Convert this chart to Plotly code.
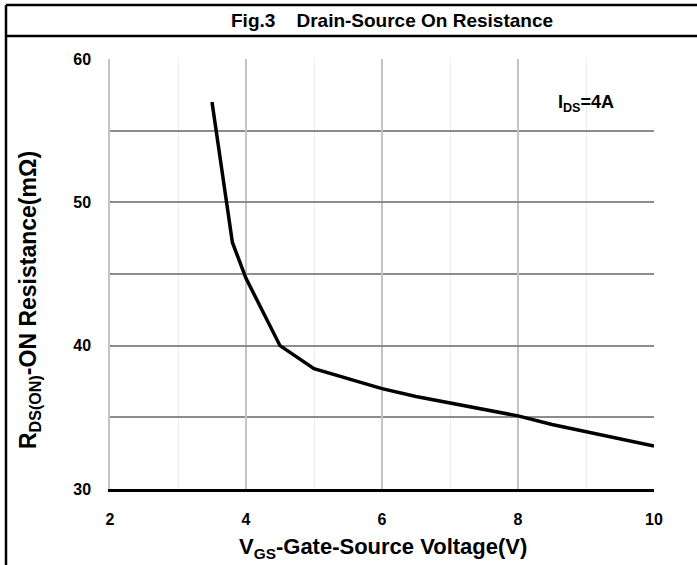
import plotly.graph_objects as go

# V_GS (V) and R_DS(ON) (mOhm)
vgs = [3.5, 3.8, 4.0, 4.5, 5.0, 5.5, 6.0, 6.5, 7.0, 7.5, 8.0, 8.5, 9.0, 9.5, 10.0]
rds_on = [57.0, 47.2, 44.7, 40.0, 38.4, 37.7, 37.0, 36.45, 36.0, 35.6, 35.1, 34.5, 34.0, 33.5, 33.0]

x_ticks = [2, 4, 6, 8, 10]
y_ticks = [30, 40, 50, 60]

FONT = "Liberation Sans Narrow, Arial Narrow, Liberation Sans, Arial, sans-serif"

W, H = 697, 565
L, R, T, B = 110, 43, 59, 76
PW, PH = W - L - R, H - T - B


def px(x):
    return (x - L) / PW


def py(y):
    return (H - B - y) / PH


fig = go.Figure()
fig.add_trace(go.Scatter(
    x=vgs, y=rds_on, mode="lines",
    line=dict(color="black", width=3.5),
    showlegend=False, hoverinfo="skip",
))

fig.update_layout(
    width=W, height=H,
    margin=dict(l=L, r=R, t=T, b=B),
    paper_bgcolor="white", plot_bgcolor="white",
    font=dict(family=FONT, color="black", size=16),
    showlegend=False,
)

fig.update_xaxes(
    range=[2, 10], tickvals=x_ticks, ticktext=[str(v) for v in x_ticks],
    showgrid=True, gridcolor="#c4c4c4", gridwidth=1.5,
    minor=dict(dtick=1, tick0=2, showgrid=True, gridcolor="#ececec", gridwidth=1),
    showline=True, linecolor="black", linewidth=2.5,
    zeroline=False, ticks="", ticklabelstandoff=14,
    tickfont=dict(size=16, family=FONT, weight="bold"),
)
fig.update_yaxes(
    range=[30, 60], tickvals=y_ticks, ticktext=[str(v) for v in y_ticks],
    showgrid=True, gridcolor="#8c8c8c", gridwidth=1.5,
    minor=dict(dtick=5, tick0=30, showgrid=True, gridcolor="#8c8c8c", gridwidth=1.5),
    showline=True, linecolor="#c4c4c4", linewidth=1.5,
    zeroline=False, ticks="", ticklabelstandoff=14,
    tickfont=dict(size=16, family=FONT, weight="bold"),
)

# outer frame and title band
frame = dict(color="black", width=2.5)
fig.add_shape(type="line", xref="paper", yref="paper",
              x0=px(6), x1=px(W), y0=py(5), y1=py(5), line=frame)
fig.add_shape(type="line", xref="paper", yref="paper",
              x0=px(6), x1=px(W), y0=py(36), y1=py(36), line=frame)
fig.add_shape(type="line", xref="paper", yref="paper",
              x0=px(6), x1=px(6), y0=py(5), y1=py(H), line=frame)

fig.add_annotation(
    xref="paper", yref="paper", x=px(392), y=py(21),
    text="<b>Fig.3&nbsp;&nbsp;&nbsp;&nbsp;Drain-Source On Resistance</b>",
    showarrow=False, font=dict(size=19, family=FONT),
    xanchor="center", yanchor="middle",
)
fig.add_annotation(
    xref="paper", yref="paper", x=px(383), y=py(548),
    text="<b>V<sub>GS</sub>-Gate-Source Voltage(V)</b>",
    showarrow=False, font=dict(size=22, family=FONT),
    xanchor="center", yanchor="middle",
)
fig.add_annotation(
    xref="paper", yref="paper", x=px(29), y=py(300),
    text="<b>R<sub>DS(ON)</sub>-ON Resistance(mΩ)</b>",
    showarrow=False, font=dict(size=23, family=FONT), textangle=-90,
    xanchor="center", yanchor="middle",
)
fig.add_annotation(
    xref="paper", yref="paper", x=px(586), y=py(103),
    text="<b>I<sub>DS</sub>=4A</b>",
    showarrow=False, font=dict(size=18, family=FONT),
    xanchor="center", yanchor="middle",
)

# drop the browser's default body margin so the figure sits at the page corner
fig.write_html(
    "out.html",
    config={"displayModeBar": False},
    post_script="document.body.style.margin='0';",
)
